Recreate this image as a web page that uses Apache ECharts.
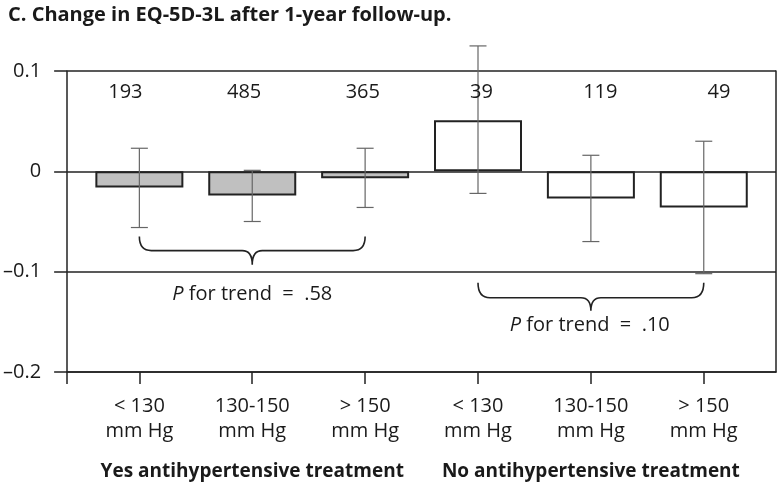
<!DOCTYPE html>
<html>
<head>
<meta charset="utf-8">
<script src="https://cdn.jsdelivr.net/npm/echarts@6/dist/echarts.min.js"></script>
<style>html,body{margin:0;padding:0;background:#fff;}#c{width:777px;height:486px;}</style>
</head>
<body>
<div id="c"></div>
<script>
const titleText = 'C. Change in EQ-5D-3L after 1-year follow-up.';
const categories = ['< 130\nmm Hg', '130-150\nmm Hg', '> 150\nmm Hg', '< 130\nmm Hg', '130-150\nmm Hg', '> 150\nmm Hg'];
const groups = ['Yes antihypertensive treatment', 'No antihypertensive treatment'];
const counts = [193, 485, 365, 39, 119, 49];
const means = [-0.016, -0.024, -0.007, 0.051, -0.027, -0.036];
const ciLow = [-0.056, -0.050, -0.036, -0.022, -0.070, -0.102];
const ciHigh = [0.023, 0.001, 0.023, 0.125, 0.016, 0.030];
const treated = [true, true, true, false, false, false];
const trendP = ['.58', '.10'];
// brace: [fromCategory, toCategory, endValue, lineValue, tipValue]
const braces = [[0, 2, -0.065, -0.079, -0.093], [3, 5, -0.111, -0.126, -0.139]];
const trendTextPos = [[1, -0.123], [3.99, -0.153]];
const yTickLabels = {'0.1': '0.1', '0': '0', '-0.1': '\u20130.1', '-0.2': '\u20130.2'};

const FONT = '"Open Sans", "Noto Sans", sans-serif';
const INK = '#1a1a1a';
const LINE = '#222';

const chart = echarts.init(document.getElementById('c'), null, {renderer: 'canvas'});

const xMin = -0.64, xMax = 5.64;

chart.setOption({
  animation: false,
  backgroundColor: '#fff',
  title: {
    text: titleText, left: 3, top: 0,
    textStyle: {fontFamily: FONT, fontWeight: 'bold', fontSize: 20, color: INK}
  },
  grid: {left: 66, right: 1, top: 71, bottom: 114},
  xAxis: [
    {
      type: 'value', min: xMin, max: xMax, position: 'bottom',
      splitLine: {show: false},
      axisLine: {show: true, onZero: false, lineStyle: {color: LINE, width: 1.5}},
      axisTick: {show: true, inside: false, length: 12, customValues: [xMin, 0, 1, 2, 3, 4, 5], lineStyle: {color: LINE, width: 1.5}},
      axisLabel: {
        show: true, customValues: [0, 1, 2, 3, 4, 5], margin: 22,
        fontFamily: FONT, fontSize: 20, color: INK, lineHeight: 25,
        formatter: v => categories[Math.round(v)]
      }
    },
    {
      type: 'value', min: xMin, max: xMax, position: 'bottom',
      splitLine: {show: false}, axisLine: {show: false, onZero: false}, axisTick: {show: false},
      axisLabel: {
        show: true, customValues: [1, 4], margin: 90,
        fontFamily: FONT, fontSize: 19, fontWeight: 'bold', color: INK,
        formatter: v => groups[v < 2.5 ? 0 : 1]
      }
    },
    {
      type: 'value', min: -0.4907, max: 5.480, show: false
    }
  ],
  yAxis: [
    {
      type: 'value', min: -0.2, max: 0.1, interval: 0.1, position: 'left',
      axisLine: {show: true, onZero: false, lineStyle: {color: LINE, width: 1.5}},
      axisTick: {show: true, inside: false, length: 13, lineStyle: {color: LINE, width: 1.5}},
      splitLine: {show: true, lineStyle: {color: LINE, width: 1.5}},
      axisLabel: {
        margin: 26, fontFamily: FONT, fontSize: 20, color: INK,
        formatter: v => { const k = String(Math.round(v * 10) / 10); return yTickLabels[k] !== undefined ? yTickLabels[k] : k; }
      }
    },
    {
      type: 'value', min: -0.2, max: 0.1, interval: 0.1, position: 'right',
      axisLine: {show: true, onZero: false, lineStyle: {color: LINE, width: 1.5}},
      axisTick: {show: false}, axisLabel: {show: false}, splitLine: {show: false}
    }
  ],
  series: [
    {
      type: 'bar', xAxisIndex: 0, yAxisIndex: 0, barWidth: 88, z: 3,
      data: means.map((m, i) => [i, m]),
      itemStyle: {
        color: p => treated[p.dataIndex] ? '#c0c0c0' : '#ffffff',
        borderColor: LINE, borderWidth: 2
      }
    },
    {
      type: 'custom', xAxisIndex: 0, yAxisIndex: 0, z: 5, clip: false,
      data: means.map((m, i) => [i, ciLow[i], ciHigh[i]]),
      renderItem: (params, api) => {
        const lo = api.coord([api.value(0), api.value(1)]);
        const hi = api.coord([api.value(0), api.value(2)]);
        const hw = 8.5;
        const st = {stroke: '#666', lineWidth: 1.2};
        return {type: 'group', children: [
          {type: 'line', shape: {x1: lo[0], y1: lo[1], x2: hi[0], y2: hi[1]}, style: st},
          {type: 'line', shape: {x1: lo[0] - hw, y1: lo[1], x2: lo[0] + hw, y2: lo[1]}, style: st},
          {type: 'line', shape: {x1: hi[0] - hw, y1: hi[1], x2: hi[0] + hw, y2: hi[1]}, style: st}
        ]};
      }
    },
    {
      type: 'custom', xAxisIndex: 0, yAxisIndex: 0, z: 5, clip: false,
      data: braces,
      renderItem: (params, api) => {
        const a = api.coord([api.value(0), api.value(2)]);
        const b = api.coord([api.value(1), api.value(2)]);
        const yL = api.coord([api.value(0), api.value(3)])[1];
        const yT = api.coord([api.value(0), api.value(4)])[1];
        const x0 = a[0], x1 = b[0], yE = a[1], xm = (x0 + x1) / 2;
        const r = 12, rm = 10;
        const d = `M${x0} ${yE} Q${x0} ${yL} ${x0 + r} ${yL} L${xm - rm} ${yL} Q${xm} ${yL} ${xm} ${yT} Q${xm} ${yL} ${xm + rm} ${yL} L${x1 - r} ${yL} Q${x1} ${yL} ${x1} ${yE}`;
        return {type: 'path', shape: {pathData: d}, style: {stroke: LINE, lineWidth: 1.6, fill: null}};
      }
    },
    {
      type: 'custom', xAxisIndex: 0, yAxisIndex: 0, z: 6, clip: false,
      data: trendTextPos.map((p, i) => [p[0], p[1], i]),
      renderItem: (params, api) => {
        const c = api.coord([api.value(0), api.value(1)]);
        return {type: 'text', x: c[0], y: c[1], style: {
          text: '{i|P} for trend  =  ' + trendP[api.value(2)],
          fontFamily: FONT, fontSize: 20, fill: INK, align: 'center', verticalAlign: 'middle',
          rich: {i: {fontStyle: 'italic', fontFamily: FONT, fontSize: 20, fill: INK}}
        }};
      }
    },
    {
      type: 'custom', xAxisIndex: 2, yAxisIndex: 0, z: 6, clip: false,
      data: counts.map((n, i) => [i, 0.079, n]),
      renderItem: (params, api) => {
        const c = api.coord([api.value(0), api.value(1)]);
        return {type: 'text', x: c[0], y: c[1], style: {
          text: String(api.value(2)), fontFamily: FONT, fontSize: 20, fill: INK,
          align: 'center', verticalAlign: 'middle'
        }};
      }
    }
  ]
});
</script>
</body>
</html>
